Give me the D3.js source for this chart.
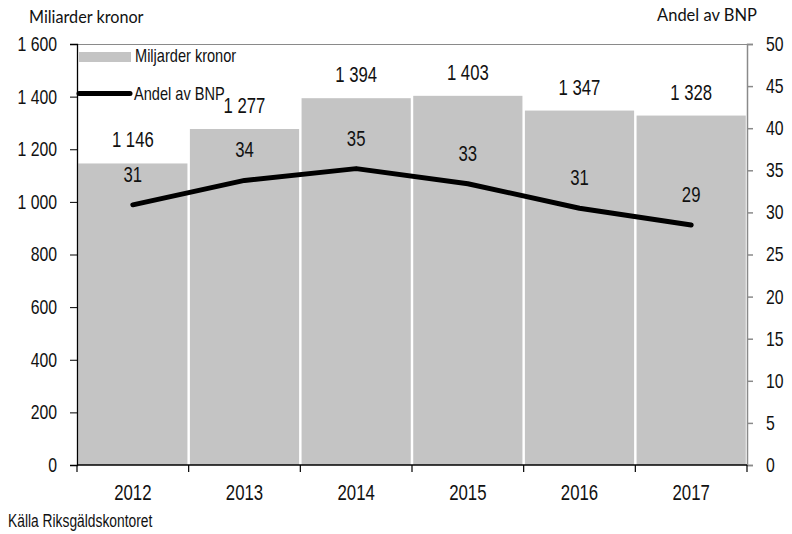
<!DOCTYPE html>
<html>
<head>
<meta charset="utf-8">
<script src="https://cdn.jsdelivr.net/npm/d3@7"></script>
<style>
  body { margin: 0; background: #fff; }
  svg { display: block; }
  .narrow { font-family: "Liberation Sans", Arial, sans-serif; }
  .plain { font-family: Lato, "Open Sans", sans-serif; }
</style>
</head>
<body>
<svg id="chart" width="792" height="534"></svg>
<script>
// data
const years = ["2012", "2013", "2014", "2015", "2016", "2017"];
const kronor = [1146, 1277, 1394, 1403, 1347, 1328];   // miljarder kronor (bars)
const andelBnp = [30.9, 33.8, 35.2, 33.4, 30.5, 28.5]; // andel av BNP, % (line)
const leftTicks = [0, 200, 400, 600, 800, 1000, 1200, 1400, 1600];
const rightTicks = [0, 5, 10, 15, 20, 25, 30, 35, 40, 45, 50];

const svg = d3.select("#chart");
const m = {left: 77, right: 747, top: 44, bottom: 465};

const se = d3.formatLocale({decimal: ",", thousands: " ", grouping: [3], currency: ["", " kr"]});
const fmt = se.format(",");

// no narrow font installed, so squeeze Liberation Sans sideways
let squeeze = (sel, sx) => {
  sel.each(function() {
    const t = d3.select(this);
    const tx = +t.attr("x") || 0, ty = +t.attr("y") || 0;
    t.attr("x", 0).attr("y", 0).attr("transform", `translate(${tx},${ty}) scale(${sx},1)`);
  });
};

const x = d3.scaleBand().domain(years).range([m.left, m.right]).paddingInner(0.022).paddingOuter(0.011);
const xStep = d3.scaleBand().domain(years).range([m.left, m.right]);
const yL = d3.scaleLinear().domain([0, 1600]).range([m.bottom, m.top]);
const yR = d3.scaleLinear().domain([0, 50]).range([m.bottom, m.top]);

const rows = years.map((yr, i) => ({year: yr, kr: kronor[i], bnp: andelBnp[i]}));

// top border
svg.append("line")
  .attr("x1", m.left).attr("x2", m.right)
  .attr("y1", m.top + 0.5).attr("y2", m.top + 0.5)
  .style("stroke", "#8a8a8a").style("stroke-width", 1);

// bars
svg.selectAll(".bar")
  .data(rows)
  .enter().append("rect")
  .attr("class", "bar")
  .attr("x", d => x(d.year))
  .attr("y", d => yL(d.kr))
  .attr("width", x.bandwidth())
  .attr("height", d => m.bottom - yL(d.kr))
  .style("fill", "#c4c4c4");

// left axis
const gL = svg.append("g").attr("class", "narrow")
  .attr("transform", `translate(${m.left},0)`)
  .call(d3.axisLeft(yL).tickValues(leftTicks).tickSize(7).tickPadding(13).tickFormat(fmt));
gL.select(".domain").style("stroke", "#000").style("stroke-width", 1.3);
gL.selectAll(".tick line").style("stroke", "#000");
gL.selectAll("text").style("font-size", "20px").style("fill", "#111").call(squeeze, 0.79);

// right axis
const gR = svg.append("g").attr("class", "narrow")
  .attr("transform", `translate(${m.right},0)`)
  .call(d3.axisRight(yR).tickValues(rightTicks).tickSize(6).tickPadding(13));
gR.select(".domain").style("stroke", "#8a8a8a").style("stroke-width", 1.5);
gR.selectAll(".tick line").style("stroke", "#8a8a8a").style("stroke-width", 1.5);
gR.selectAll("text").style("font-size", "20px").style("fill", "#111").call(squeeze, 0.79);

// bottom axis: ticks at category borders
const gB = svg.append("g").attr("class", "narrow")
  .attr("transform", `translate(0,${m.bottom})`);
gB.append("line")
  .attr("x1", m.left).attr("x2", m.right)
  .style("stroke", "#000").style("stroke-width", 1.5);
gB.selectAll(".xtick")
  .data(years.concat(["end"]))
  .enter().append("line")
  .attr("class", "xtick")
  .attr("x1", (d, i) => i < years.length ? xStep(d) : m.right)
  .attr("x2", (d, i) => i < years.length ? xStep(d) : m.right)
  .attr("y1", 0).attr("y2", 7)
  .style("stroke", "#000").style("stroke-width", 1.2);
gB.selectAll(".xlabel")
  .data(years)
  .enter().append("text")
  .attr("class", "xlabel")
  .attr("x", d => xStep(d) + xStep.bandwidth() / 2)
  .attr("y", 34.5)
  .attr("text-anchor", "middle")
  .style("font-size", "21.5px").style("fill", "#111")
  .text(d => d)
  .call(squeeze, 0.78);

// line
const line = d3.line()
  .x(d => x(d.year) + x.bandwidth() / 2)
  .y(d => yR(d.bnp));
svg.append("path")
  .datum(rows)
  .attr("d", line)
  .style("fill", "none")
  .style("stroke", "#000")
  .style("stroke-width", 5)
  .style("stroke-linecap", "round")
  .style("stroke-linejoin", "round");

// bar labels
svg.selectAll(".barlabel")
  .data(rows)
  .enter().append("text")
  .attr("class", "barlabel narrow")
  .attr("x", d => x(d.year) + x.bandwidth() / 2)
  .attr("y", d => yL(d.kr) - 16)
  .attr("text-anchor", "middle")
  .style("font-size", "22px").style("fill", "#111")
  .text(d => fmt(d.kr))
  .call(squeeze, 0.76);

// line labels
svg.selectAll(".linelabel")
  .data(rows)
  .enter().append("text")
  .attr("class", "linelabel narrow")
  .attr("x", d => x(d.year) + x.bandwidth() / 2)
  .attr("y", d => yR(d.bnp) - 23)
  .attr("text-anchor", "middle")
  .style("font-size", "22px").style("fill", "#111")
  .text(d => Math.round(d.bnp))
  .call(squeeze, 0.76);

// legend
const leg = svg.append("g").attr("class", "narrow");
leg.append("rect")
  .attr("x", 79).attr("y", 52).attr("width", 52).attr("height", 10)
  .style("fill", "#c4c4c4");
leg.append("text")
  .attr("x", 135).attr("y", 62)
  .style("font-size", "18px").style("fill", "#111")
  .text("Miljarder kronor")
  .call(squeeze, 0.81);
leg.append("line")
  .attr("x1", 79).attr("x2", 130).attr("y1", 93.5).attr("y2", 93.5)
  .style("stroke", "#000").style("stroke-width", 5).style("stroke-linecap", "round");
leg.append("text")
  .attr("x", 134).attr("y", 100)
  .style("font-size", "18px").style("fill", "#111")
  .text("Andel av BNP")
  .call(squeeze, 0.81);

// titles and source
svg.append("text").attr("class", "plain")
  .attr("x", 29).attr("y", 23)
  .style("font-size", "18px").style("fill", "#111")
  .text("Miliarder kronor")
  .call(squeeze, 0.9);
svg.append("text").attr("class", "plain")
  .attr("x", 757).attr("y", 21)
  .attr("text-anchor", "end")
  .style("font-size", "16.5px").style("fill", "#111")
  .text("Andel av BNP");
svg.append("text").attr("class", "narrow")
  .attr("x", 8).attr("y", 527)
  .style("font-size", "17.5px").style("fill", "#111")
  .text("Källa Riksgäldskontoret")
  .call(squeeze, 0.79);
</script>
</body>
</html>
